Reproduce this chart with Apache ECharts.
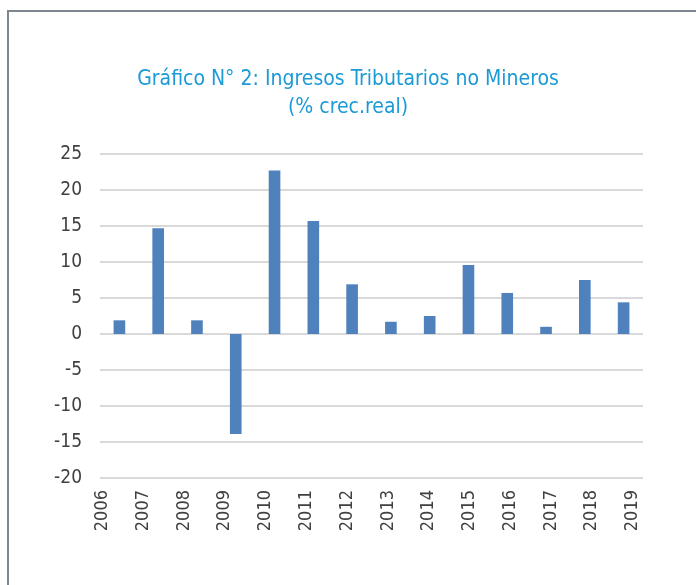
<!DOCTYPE html>
<html>
<head>
<meta charset="utf-8">
<script src="https://cdn.jsdelivr.net/npm/echarts@6/dist/echarts.min.js"></script>
<style>
  html, body { margin: 0; padding: 0; background: #fff; }
  #chart { width: 696px; height: 585px; }
  #frame {
    position: absolute; left: 7px; top: 10px; width: 720px; height: 600px;
    border-left: 2px solid #7d858e; border-top: 2px solid #7d858e;
    pointer-events: none;
  }
</style>
</head>
<body>
<div id="chart"></div>
<div id="frame"></div>
<script>
// datos del gráfico
const years = ['2006', '2007', '2008', '2009', '2010', '2011', '2012', '2013', '2014', '2015', '2016', '2017', '2018', '2019']
const growth = [1.9, 14.7, 1.9, -13.9, 22.7, 15.7, 6.9, 1.7, 2.5, 9.6, 5.7, 1.0, 7.5, 4.4]
const yMin = -20
const yMax = 25
const yStep = 5

const font = '"DejaVu Sans Condensed", "Liberation Sans Narrow", "Liberation Sans", sans-serif'

const myChart = echarts.init(document.getElementById('chart'))

const option = {
  animation: false,
  title: {
    left: 'center',
    top: 61,
    itemGap: 0,
    text: 'Gráfico N° 2: Ingresos Tributarios no Mineros\n(% crec.real)',
    textStyle: {
      color: '#1b9ad6',
      fontFamily: font,
      fontWeight: 'normal',
      fontSize: 21,
      lineHeight: 28,
      align: 'center'
    }
  },
  grid: [
    { left: 100, right: 53, top: 154, bottom: 107 },
    // grilla auxiliar solo para las etiquetas del eje x
    { left: 82, right: 43, top: 154, bottom: 107 }
  ],
  xAxis: [
    {
      type: 'category',
      data: years,
      gridIndex: 0,
      axisLine: { show: false },
      axisTick: { show: false },
      axisLabel: { show: false }
    },
    {
      type: 'category',
      data: years,
      gridIndex: 1,
      position: 'bottom',
      axisLine: { show: false },
      axisTick: { show: false },
      axisLabel: {
        rotate: 90,
        margin: 12,
        color: '#404040',
        fontFamily: font,
        fontSize: 18
      }
    }
  ],
  yAxis: [
    {
      type: 'value',
      gridIndex: 0,
      min: yMin,
      max: yMax,
      interval: yStep,
      axisLine: { show: false },
      axisTick: { show: false },
      axisLabel: {
        margin: 18,
        color: '#404040',
        fontFamily: font,
        fontSize: 19
      },
      splitLine: {
        lineStyle: { color: '#d9d9d9', width: 2 }
      }
    },
    {
      type: 'value',
      gridIndex: 1,
      min: yMin,
      max: yMax,
      show: false,
      splitLine: { show: false }
    }
  ],
  series: [
    {
      name: 'Ingresos Tributarios no Mineros',
      type: 'bar',
      xAxisIndex: 0,
      yAxisIndex: 0,
      data: growth,
      barWidth: '30%',
      itemStyle: {
        color: '#4f81bd'
      }
    }
  ]
}

option && myChart.setOption(option)
</script>
</body>
</html>
